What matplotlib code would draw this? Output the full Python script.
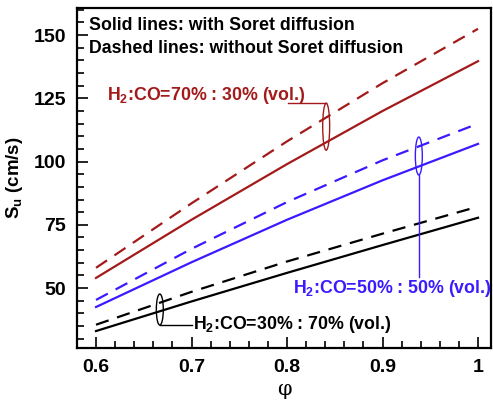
import numpy as np
import matplotlib
matplotlib.use('Agg')
import matplotlib.pyplot as plt
from matplotlib.patches import Ellipse
from matplotlib.ticker import MultipleLocator

plt.rcParams['font.family'] = 'Liberation Sans'
plt.rcParams['font.weight'] = 'bold'
plt.rcParams['mathtext.fontset'] = 'custom'
plt.rcParams['mathtext.rm'] = 'Liberation Sans:bold'
plt.rcParams['mathtext.it'] = 'Liberation Sans:bold'
plt.rcParams['mathtext.bf'] = 'Liberation Sans:bold'

# equivalence ratio
phi = [0.6, 0.7, 0.8, 0.9, 1.0]

# laminar flame speed (cm/s)
h70_soret = [54.0, 77.0, 99.0, 120.0, 139.7]
h70_nosoret = [58.0, 83.5, 108.0, 131.0, 152.5]
h50_soret = [42.5, 60.2, 77.0, 92.6, 107.0]
h50_nosoret = [45.3, 65.5, 84.0, 100.5, 115.0]
h30_soret = [33.0, 44.7, 56.0, 67.0, 77.8]
h30_nosoret = [35.5, 48.5, 60.5, 71.5, 82.2]

red = '#A31A1A'
blue = '#3A1AFF'
dash = (0, (6, 4))

fig = plt.figure(figsize=(4.93, 4.03), dpi=100)
ax = fig.add_axes([0.156, 0.1365, 0.84, 0.8435])

ax.plot(phi, h70_nosoret, color=red, lw=1.6, linestyle=dash)
ax.plot(phi, h70_soret, color=red, lw=1.6)
ax.plot(phi, h50_nosoret, color=blue, lw=1.6, linestyle=dash)
ax.plot(phi, h50_soret, color=blue, lw=1.6)
ax.plot(phi, h30_nosoret, color='black', lw=1.6, linestyle=dash)
ax.plot(phi, h30_soret, color='black', lw=1.6)

fs = 12.8

# red group label
ax.add_patch(Ellipse((0.841, 113.8), 0.0073, 18.6, fill=False, ec=red, lw=1.0))
ax.plot([0.8015, 0.841], [123.1, 123.1], color=red, lw=1.0)
ax.text(0.6115, 126.3, 'H$_2$:CO=70% : 30% (vol.)', color=red, fontsize=fs,
        fontweight='bold', va='center', ha='left')

# blue group label
ax.add_patch(Ellipse((0.938, 102.2), 0.0073, 15.0, fill=False, ec=blue, lw=1.0))
ax.plot([0.938, 0.938], [94.7, 54.3], color=blue, lw=1.0)
ax.text(0.8067, 50.0, 'H$_2$:CO=50% : 50% (vol.)', color=blue, fontsize=fs,
        fontweight='bold', va='center', ha='left')

# black group label
ax.add_patch(Ellipse((0.6668, 41.5), 0.0073, 12.3, fill=False, ec='black', lw=1.0))
ax.plot([0.6668, 0.7005], [35.4, 35.4], color='black', lw=1.0)
ax.text(0.7015, 35.4, 'H$_2$:CO=30% : 70% (vol.)', color='black', fontsize=fs,
        fontweight='bold', va='center', ha='left')

ax.text(0.03, 0.95, 'Solid lines: with Soret diffusion', transform=ax.transAxes,
        fontsize=fs, fontweight='bold', va='center', ha='left')
ax.text(0.03, 0.882, 'Dashed lines: without Soret diffusion', transform=ax.transAxes,
        fontsize=fs, fontweight='bold', va='center', ha='left')

ax.set_xlim(0.58, 1.0136)
ax.set_ylim(26.3, 160.7)
ax.set_xticks([0.6, 0.7, 0.8, 0.9, 1.0])
ax.set_xticklabels(['0.6', '0.7', '0.8', '0.9', '1'])
ax.set_yticks([50, 75, 100, 125, 150])
ax.xaxis.set_minor_locator(MultipleLocator(0.02))
ax.yaxis.set_minor_locator(MultipleLocator(5))
ax.tick_params(which='both', direction='in', top=False, right=False, width=1.2)
ax.tick_params(which='major', length=8, labelsize=14, pad=8)
ax.tick_params(which='minor', length=5)
for lab in ax.get_xticklabels() + ax.get_yticklabels():
    lab.set_fontweight('bold')
for s in ax.spines.values():
    s.set_linewidth(1.6)

ax.set_xlabel('φ', fontsize=15, family='DejaVu Serif', fontweight='normal', labelpad=3)
ax.set_ylabel('S$_u$ (cm/s)', fontsize=13.5, fontweight='bold', labelpad=6)

fig.savefig('out.png', dpi=100)
